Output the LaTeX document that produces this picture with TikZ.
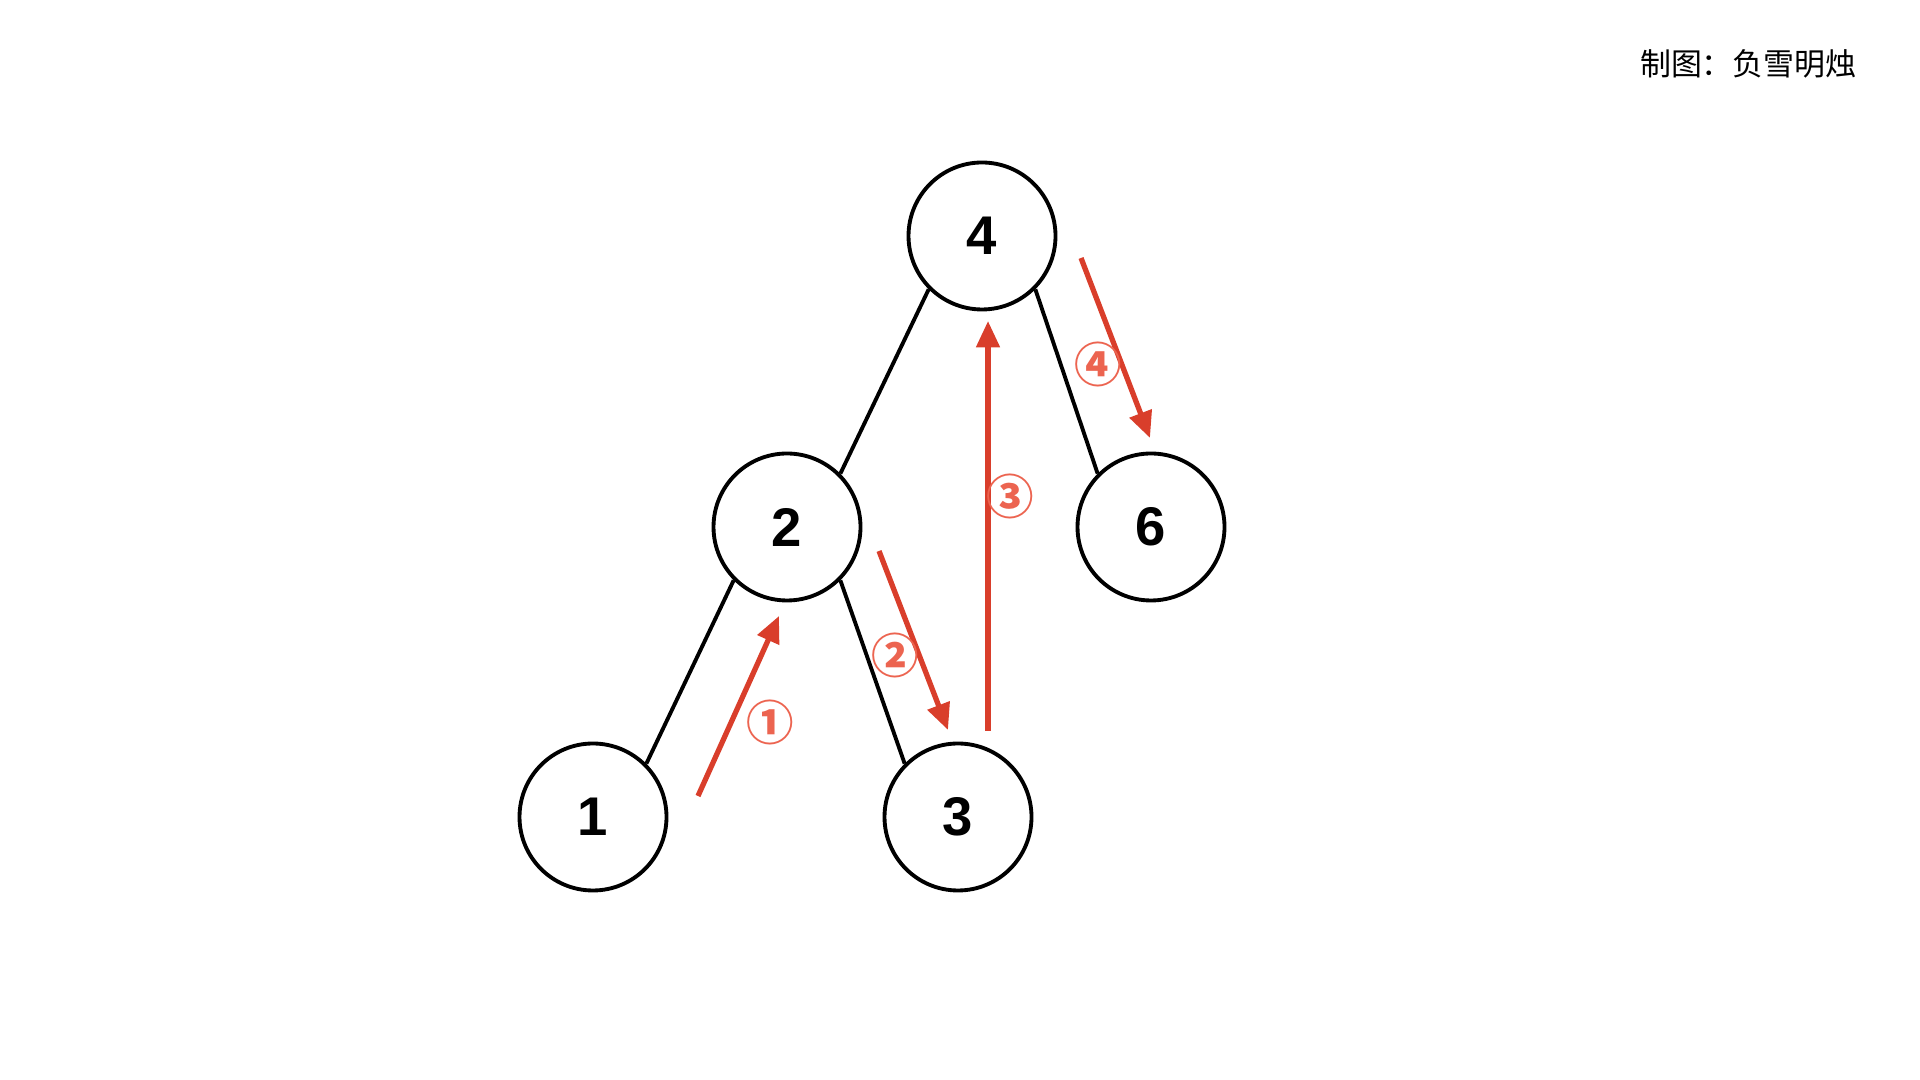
\documentclass[tikz,border=0pt]{standalone}
\usepackage{fontspec}
\setmainfont{Liberation Sans}
\newfontfamily\cjk{Noto Sans CJK SC}
\usetikzlibrary{arrows.meta}
\definecolor{walkred}{RGB}{217,62,43}
\definecolor{tagred}{RGB}{236,100,80}
\begin{document}
\begin{tikzpicture}[x=1cm,y=1cm,
  treenode/.style={draw, circle, line width=1.1pt, minimum size=1.47cm, inner sep=0pt, font=\fontsize{15.5}{18}\selectfont\bfseries},
  edge/.style={line width=1.1pt},
  walk/.style={draw=walkred, line width=1.5pt, -{Triangle[length=7.5pt,width=6.5pt]}},
  tag/.style={text=tagred, font=\cjk\bfseries\fontsize{13.5}{15}\selectfont}]
\useasboundingbox (0,0) rectangle (19.2,10.8);
\node[treenode] (n4) at (9.82,8.44) {4};
\node[treenode] (n2) at (7.87,5.53) {2};
\node[treenode] (n6) at (11.51,5.53) {6};
\node[treenode] (n1) at (5.93,2.63) {1};
\node[treenode] (n3) at (9.58,2.63) {3};
\draw[edge] (n4.225) -- (n2.45);
\draw[edge] (n4.-45) -- (n6.135);
\draw[edge] (n2.225) -- (n1.45);
\draw[edge] (n2.-45) -- (n3.135);
% traversal order
\coordinate (a1) at (6.98,2.84);
\coordinate (b1) at (7.79,4.64);
\coordinate (a2) at (8.79,5.29);
\coordinate (b2) at (9.48,3.50);
\coordinate (a3) at (9.88,3.49);
\coordinate (b3) at (9.88,7.59);
\coordinate (a4) at (10.81,8.22);
\coordinate (b4) at (11.50,6.42);
\draw[walk] (a1) -- (b1);
\draw[walk] (a2) -- (b2);
\draw[walk] (a3) -- (b3);
\draw[walk] (a4) -- (b4);
\node[tag] (t1) at (7.70,3.58) {①};
\node[tag] (t2) at (8.95,4.25) {②};
\node[tag] (t3) at (10.10,5.84) {③};
\node[tag] (t4) at (10.98,7.16) {④};
\node[font=\cjk\fontsize{8.8}{10}\selectfont, anchor=east] (credit) at (18.69,10.16) {制图：负雪明烛};
\end{tikzpicture}
\end{document}
